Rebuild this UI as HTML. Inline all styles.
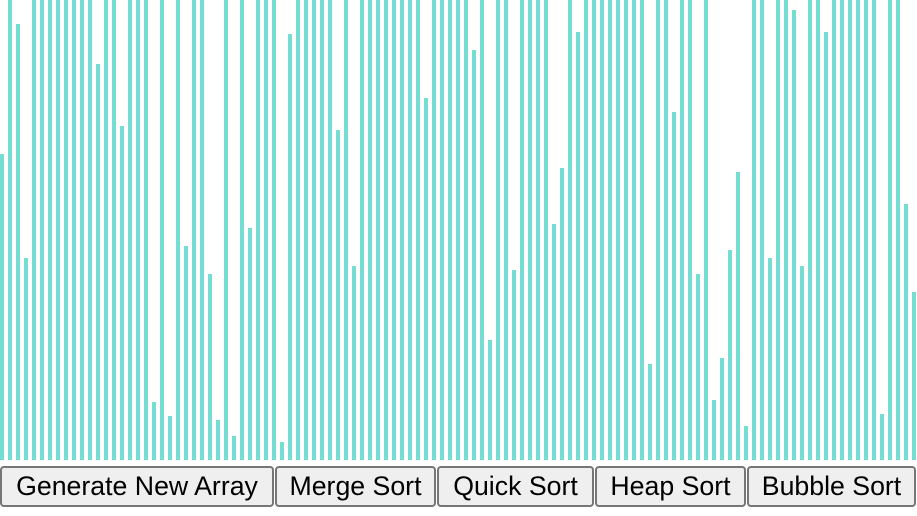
<!DOCTYPE html>
<html><head><meta charset="utf-8"><style>
html,body{margin:0;padding:0;background:#fff;width:917px;height:516px;overflow:hidden}
#bars{position:absolute;left:0;top:0;height:460px;width:917px;display:flex;align-items:flex-end;gap:4px}
#bars i{display:block;width:4px;background:#76ddd3;flex:none}
button{position:absolute;top:466px;height:41px;font:26.7px "Liberation Sans",sans-serif;color:#000;background:#efefef;border:2px solid #767676;border-radius:4px;padding:0;box-sizing:border-box;white-space:nowrap}
</style></head><body>
<div id="bars">
<i style="height:306px"></i><i style="height:460px"></i><i style="height:436px"></i><i style="height:202px"></i><i style="height:460px"></i><i style="height:460px"></i><i style="height:460px"></i><i style="height:460px"></i><i style="height:460px"></i><i style="height:460px"></i><i style="height:460px"></i><i style="height:460px"></i><i style="height:396px"></i><i style="height:460px"></i><i style="height:460px"></i><i style="height:334px"></i><i style="height:460px"></i><i style="height:460px"></i><i style="height:460px"></i><i style="height:58px"></i><i style="height:460px"></i><i style="height:44px"></i><i style="height:460px"></i><i style="height:214px"></i><i style="height:460px"></i><i style="height:460px"></i><i style="height:186px"></i><i style="height:40px"></i><i style="height:460px"></i><i style="height:24px"></i><i style="height:460px"></i><i style="height:232px"></i><i style="height:460px"></i><i style="height:460px"></i><i style="height:460px"></i><i style="height:18px"></i><i style="height:426px"></i><i style="height:460px"></i><i style="height:460px"></i><i style="height:460px"></i><i style="height:460px"></i><i style="height:460px"></i><i style="height:330px"></i><i style="height:460px"></i><i style="height:194px"></i><i style="height:460px"></i><i style="height:460px"></i><i style="height:460px"></i><i style="height:460px"></i><i style="height:460px"></i><i style="height:460px"></i><i style="height:460px"></i><i style="height:460px"></i><i style="height:362px"></i><i style="height:460px"></i><i style="height:460px"></i><i style="height:460px"></i><i style="height:460px"></i><i style="height:460px"></i><i style="height:410px"></i><i style="height:460px"></i><i style="height:120px"></i><i style="height:460px"></i><i style="height:460px"></i><i style="height:190px"></i><i style="height:460px"></i><i style="height:460px"></i><i style="height:460px"></i><i style="height:460px"></i><i style="height:236px"></i><i style="height:292px"></i><i style="height:460px"></i><i style="height:428px"></i><i style="height:460px"></i><i style="height:460px"></i><i style="height:460px"></i><i style="height:460px"></i><i style="height:460px"></i><i style="height:460px"></i><i style="height:460px"></i><i style="height:460px"></i><i style="height:96px"></i><i style="height:460px"></i><i style="height:460px"></i><i style="height:348px"></i><i style="height:460px"></i><i style="height:460px"></i><i style="height:186px"></i><i style="height:460px"></i><i style="height:60px"></i><i style="height:102px"></i><i style="height:210px"></i><i style="height:288px"></i><i style="height:34px"></i><i style="height:460px"></i><i style="height:460px"></i><i style="height:202px"></i><i style="height:460px"></i><i style="height:460px"></i><i style="height:450px"></i><i style="height:194px"></i><i style="height:460px"></i><i style="height:460px"></i><i style="height:428px"></i><i style="height:460px"></i><i style="height:460px"></i><i style="height:460px"></i><i style="height:460px"></i><i style="height:460px"></i><i style="height:460px"></i><i style="height:46px"></i><i style="height:460px"></i><i style="height:460px"></i><i style="height:256px"></i><i style="height:168px"></i>
</div>
<button style="left:0;width:274px">Generate New Array</button>
<button style="left:275px;width:161px">Merge Sort</button>
<button style="left:437px;width:157px">Quick Sort</button>
<button style="left:595px;width:151px">Heap Sort</button>
<button style="left:747px;width:169px">Bubble Sort</button>
</body></html>
